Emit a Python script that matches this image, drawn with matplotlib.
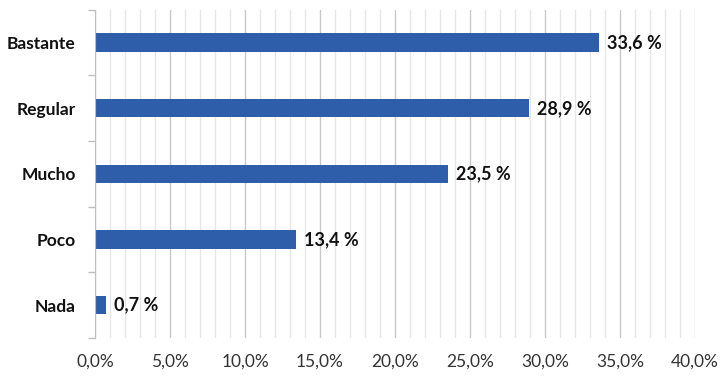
import matplotlib.pyplot as plt
from matplotlib.ticker import MultipleLocator, FuncFormatter

# data
categories = ['Bastante', 'Regular', 'Mucho', 'Poco', 'Nada']
values = [33.6, 28.9, 23.5, 13.4, 0.7]
value_labels = ['33,6 %', '28,9 %', '23,5 %', '13,4 %', '0,7 %']

plt.rcParams['font.family'] = ['Lato', 'DejaVu Sans']

fig = plt.figure(figsize=(7.27, 3.78), dpi=100)
ax = fig.add_axes([0.1307, 0.106, 0.8253, 0.868])

ypos = list(range(len(categories)))[::-1]
ax.barh(ypos, values, height=0.28, color='#2E5DAA', zorder=3)

for y, v, lab in zip(ypos, values, value_labels):
    ax.annotate(lab, (v, y), xytext=(6, 0), textcoords='offset points',
                va='center', ha='left', fontsize=13, fontweight='bold', color='#111111')

ax.set_xlim(0, 40)
ax.set_ylim(-0.5, len(categories) - 0.5)

# x axis: major every 5%, minor every 1%
ax.xaxis.set_major_locator(MultipleLocator(5))
ax.xaxis.set_minor_locator(MultipleLocator(1))
ax.xaxis.set_major_formatter(FuncFormatter(lambda x, p: f'{x:.1f}%'.replace('.', ',')))
ax.grid(axis='x', which='major', color='#C8C8C8', linewidth=1.0, zorder=0)
ax.grid(axis='x', which='minor', color='#E6E6E6', linewidth=1.0, zorder=0)
ax.tick_params(axis='x', which='both', length=0, labelsize=12.5, colors='#333333', pad=11)

# y axis: labels centred on bars, tick marks between categories
ax.set_yticks(ypos)
ax.set_yticklabels(categories, fontsize=12.5, fontweight='bold', color='#111111')
ax.set_yticks([i - 0.5 for i in range(len(categories) + 1)], minor=True)
ax.tick_params(axis='y', which='major', length=0, pad=14)
ax.tick_params(axis='y', which='minor', length=5, color='#BFBFBF', width=1)

for s in ['top', 'right', 'bottom']:
    ax.spines[s].set_visible(False)
ax.spines['left'].set_color('#BFBFBF')
ax.spines['left'].set_zorder(4)

fig.savefig('out.png', dpi=100)
